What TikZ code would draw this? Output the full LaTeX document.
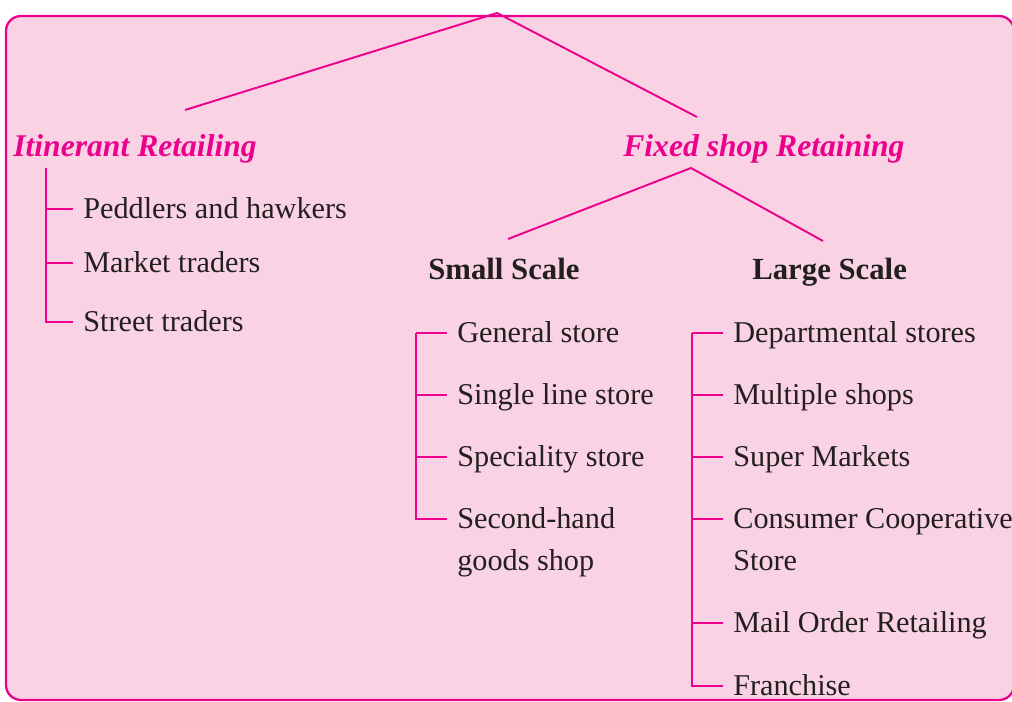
\documentclass[tikz,border=0pt]{standalone}
\usepackage{fontspec}
\setmainfont{Liberation Serif}
\usepackage{tikz}
\usetikzlibrary{positioning, calc}
\definecolor{mymagenta}{RGB}{236,0,140}
\definecolor{mypink}{RGB}{249,211,228}
\definecolor{mytext}{RGB}{35,31,32}
\tikzset{
  frame/.style={draw=mymagenta, fill=mypink, line width=1.3pt,
    rounded corners=0.3cm},
  branch/.style={draw=mymagenta, line width=1.1pt},
  treeline/.style={draw=mymagenta, line width=0.7pt},
  heading/.style={font=\fontsize{18}{22}\selectfont\bfseries\itshape,
    text=mymagenta, inner sep=0pt, anchor=base west},
  scalehead/.style={font=\fontsize{17.5}{21}\selectfont\bfseries,
    text=mytext, inner sep=0pt, anchor=base west},
  item/.style={font=\fontsize{17.2}{20}\selectfont, text=mytext,
    anchor=west, inner xsep=0.2cm, inner ysep=0pt,
    text height=0.52cm, text depth=0.14cm}
}

\begin{document}
\begin{tikzpicture}[x=0.02cm, y=-0.02cm]
  \useasboundingbox (0,0) rectangle (1012,702);
  % Panel
  \path[frame] (6,16) rectangle (1014,700);
  % Title, cut off at the top edge
  \node[heading] (title) at (392,-6) {Types of Retailing};
  % Main branches
  \coordinate (apex) at (497,13);
  \coordinate (itin-end) at (185,110);
  \coordinate (fixed-end) at (697,117);
  \draw[branch] (itin-end) -- (apex) -- (fixed-end);
  \node[heading] (itinerant) at (13,157) {Itinerant Retailing};
  \node[heading] (fixed) at (623,157) {Fixed shop Retaining};
  % Itinerant retailing
  \coordinate (itin-spine) at (46,168);
  \node[item] (peddlers) at (73,209) {Peddlers and hawkers};
  \node[item] (market) at (73,263) {Market traders};
  \node[item] (street) at (73,322) {Street traders};
  \draw[treeline] (itin-spine) |- (street.west);
  \foreach \n in {peddlers, market}
    \draw[treeline] (itin-spine |- \n.west) -- (\n.west);
  % Fixed shop split
  \coordinate (fixed-apex) at (691,168);
  \coordinate (small-end) at (508,239);
  \coordinate (large-end) at (823,241);
  \draw[branch] (small-end) -- (fixed-apex) -- (large-end);
  \node[scalehead] (small) at (428,280) {Small Scale};
  \node[scalehead] (large) at (752,280) {Large Scale};
  % Small scale
  \coordinate (small-spine) at (416,333);
  \node[item] (general) at (447,333) {General store};
  \node[item] (single) at (447,395) {Single line store};
  \node[item] (speciality) at (447,457) {Speciality store};
  \node[item] (secondhand) at (447,519) {Second-hand};
  \node[item] (goods) at (447,561) {goods shop};
  \draw[treeline] (small-spine) |- (secondhand.west);
  \foreach \n in {general, single, speciality}
    \draw[treeline] (small-spine |- \n.west) -- (\n.west);
  % Large scale
  \coordinate (large-spine) at (692,333);
  \node[item] (departmental) at (723,333) {Departmental stores};
  \node[item] (multiple) at (723,395) {Multiple shops};
  \node[item] (super) at (723,457) {Super Markets};
  \node[item] (consumer) at (723,519) {Consumer Cooperative};
  \node[item] (store) at (723,561) {Store};
  \node[item] (mail) at (723,623) {Mail Order Retailing};
  \node[item] (franchise) at (723,686) {Franchise};
  \draw[treeline] (large-spine) |- (franchise.west);
  \foreach \n in {departmental, multiple, super, consumer, mail}
    \draw[treeline] (large-spine |- \n.west) -- (\n.west);
\end{tikzpicture}
\end{document}
